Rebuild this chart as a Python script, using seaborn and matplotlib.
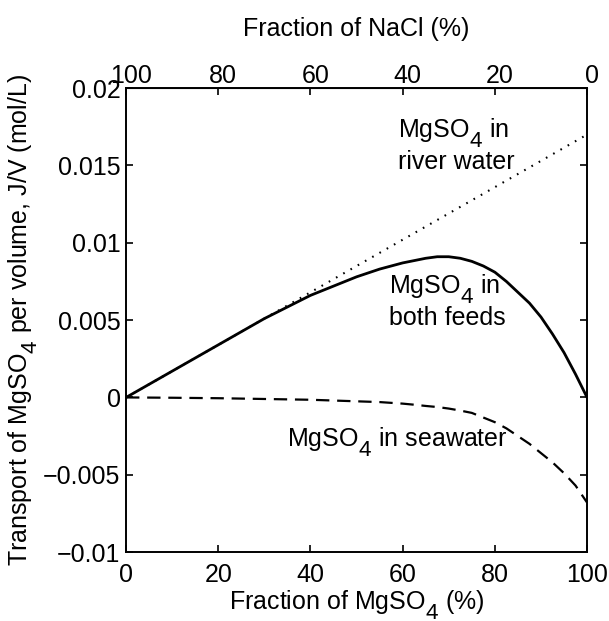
import numpy as np
import pandas as pd
import matplotlib
matplotlib.use("Agg")
import matplotlib.pyplot as plt
import matplotlib._mathtext as mt
from matplotlib.transforms import ScaledTranslation
import seaborn as sns

# data
frac = [0, 10, 20, 30, 40, 50, 55, 60, 62.5, 65, 67.5, 70, 72.5, 75, 77.5,
        80, 82.5, 85, 87.5, 90, 92.5, 95, 97.5, 100]
river = [0, 0.0017, 0.0034, 0.0051, 0.0068, 0.0085, 0.00935, 0.0102, 0.010625,
         0.01105, 0.011475, 0.0119, 0.012325, 0.01275, 0.013175, 0.0136,
         0.014025, 0.01445, 0.014875, 0.0153, 0.015725, 0.01615, 0.016575, 0.0170]
both = [0, 0.0017, 0.0034, 0.0051, 0.0066, 0.0078, 0.0083, 0.0087, 0.00885,
        0.0090, 0.0091, 0.0091, 0.0090, 0.0088, 0.0085, 0.0081, 0.0075,
        0.0068, 0.0061, 0.0052, 0.0041, 0.0029, 0.0015, 0]
sea = [0, -0.00002, -0.00005, -0.0001, -0.00015, -0.00025, -0.0003, -0.0004,
       -0.00047, -0.00055, -0.00062, -0.00072, -0.00085, -0.001, -0.0013,
       -0.0016, -0.002, -0.0025, -0.0030, -0.0036, -0.0042, -0.0049, -0.0057, -0.0068]
nacl_ticks = [100, 80, 60, 40, 20, 0]

sns.set_style("ticks")
plt.rcParams['font.family'] = ['Liberation Sans', 'DejaVu Sans']
plt.rcParams['mathtext.fontset'] = 'custom'
plt.rcParams['mathtext.rm'] = 'Liberation Sans'
plt.rcParams['mathtext.it'] = 'Liberation Sans'
plt.rcParams['font.size'] = 18
for key in ['text.color', 'axes.labelcolor', 'xtick.color', 'ytick.color', 'axes.edgecolor']:
    plt.rcParams[key] = 'black'

# bigger, lower subscripts like the original
mt.SHRINK_FACTOR = 0.9
mt.FontConstantsBase.sub1 = 0.75

fig = plt.figure(figsize=(6.09, 6.21), dpi=100)
ax = fig.add_axes([0.207, 0.111, 0.757, 0.747])

df = pd.DataFrame({'frac': frac, 'river': river, 'both': both, 'sea': sea})
sns.lineplot(data=df, x='frac', y='river', ax=ax, color='k', lw=1.5, linestyle=(0, (0.8, 3.2)))
sns.lineplot(data=df, x='frac', y='both', ax=ax, color='k', lw=2)
sns.lineplot(data=df, x='frac', y='sea', ax=ax, color='k', lw=1.6, linestyle=(0, (6, 3.5)))

ax.set_xlim(0, 100)
ax.set_ylim(-0.01, 0.02)
ax.set_xticks([0, 20, 40, 60, 80, 100])
ax.set_yticks([-0.01, -0.005, 0, 0.005, 0.01, 0.015, 0.02])
ax.set_yticklabels(['\u22120.01', '\u22120.005', '0', '0.005', '0.01', '0.015', '0.02'])
ax.tick_params(direction='in', length=5, width=1.2, right=True, labelsize=18, pad=4)
ax.tick_params(axis='x', pad=8)
for s in ax.spines.values():
    s.set_linewidth(1.4)

top = ax.secondary_xaxis('top', functions=(lambda x: 100 - x, lambda x: 100 - x))
top.set_xticks(nacl_ticks)
top.tick_params(direction='in', length=5, width=1.2, labelsize=18, pad=0)
top.set_xlabel('Fraction of NaCl (%)', fontsize=18, labelpad=20)

ax.set_xlabel('Fraction of MgSO$_4$ (%)', fontsize=18, labelpad=1)
ax.set_ylabel('Transport of MgSO$_4$ per volume, J/V (mol/L)', fontsize=18, labelpad=2)

ax.text(59, 0.0182, 'MgSO$_4$ in\nriver water', fontsize=18, va='top', ha='left', linespacing=1.05)
ax.text(57, 0.0081, 'MgSO$_4$ in\nboth feeds', fontsize=18, va='top', ha='left', linespacing=1.0)
ax.text(35, -0.0029, 'MgSO$_4$ in seawater', fontsize=18, va='center', ha='left')

# top tick labels sit a bit right of their ticks in the original
fig.canvas.draw()
for lbl in top.get_xticklabels():
    lbl.set_transform(lbl.get_transform() + ScaledTranslation(0.05, 0, fig.dpi_scale_trans))

fig.savefig('out.png', dpi=100)
